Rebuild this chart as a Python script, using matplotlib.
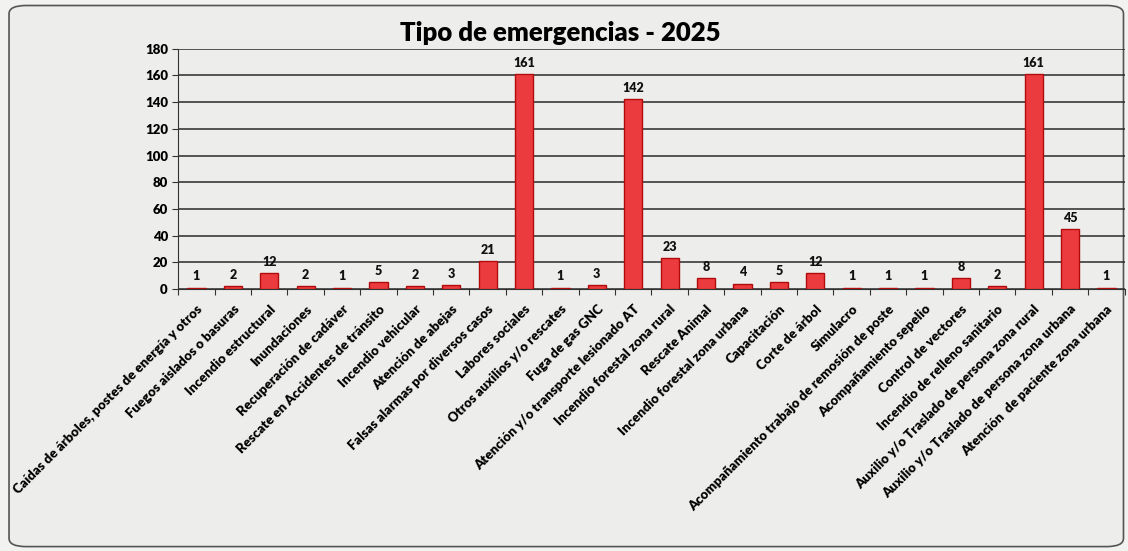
import matplotlib.pyplot as plt
from matplotlib.patches import FancyBboxPatch

categorias = [
    'Caídas de árboles, postes de energía y otros',
    'Fuegos aislados o basuras',
    'Incendio estructural',
    'Inundaciones',
    'Recuperación de cadáver',
    'Rescate en Accidentes de tránsito',
    'Incendio vehicular',
    'Atención de abejas',
    'Falsas alarmas por diversos casos',
    'Labores sociales',
    'Otros auxilios y/o rescates',
    'Fuga de gas GNC',
    'Atención y/o transporte lesionado AT',
    'Incendio forestal zona rural',
    'Rescate Animal',
    'Incendio forestal zona urbana',
    'Capacitación',
    'Corte de árbol',
    'Simulacro',
    'Acompañamiento trabajo de remosión de poste',
    'Acompañamiento sepelio',
    'Control de vectores',
    'Incendio de relleno sanitario',
    'Auxilio y/o Traslado de persona zona rural',
    'Auxilio y/o Traslado de persona zona urbana',
    'Atención  de paciente zona urbana',
]
valores = [1, 2, 12, 2, 1, 5, 2, 3, 21, 161, 1, 3, 142, 23, 8, 4, 5, 12,
           1, 1, 1, 8, 2, 161, 45, 1]
y_ticks = [0, 20, 40, 60, 80, 100, 120, 140, 160, 180]

plt.rcParams['font.family'] = ['Lato', 'DejaVu Sans']
plt.rcParams['font.weight'] = 'bold'

fig = plt.figure(figsize=(11.28, 5.51), dpi=100)
fig.patch.set_facecolor('#f2f2f0')

# marco redondeado del grafico
marco = FancyBboxPatch((0.008, 0.008), 0.988, 0.982, transform=fig.transFigure,
                       boxstyle='round,pad=0,rounding_size=0.015',
                       facecolor='#ededeb', edgecolor='#555555', linewidth=1.2,
                       zorder=-10)
fig.patches.append(marco)

ax = fig.add_axes([0.158, 0.4755, 0.839, 0.436])
ax.set_facecolor('none')
ax.set_zorder(5)

x = range(len(categorias))
bars = ax.bar(x, valores, width=0.5, color='#ec3b3e', edgecolor='#b00c0c',
              linewidth=1.0, zorder=3)

for xi, v in zip(x, valores):
    ax.text(xi, v + 4, str(v), ha='center', va='bottom', fontsize=9,
            fontweight='heavy', color='#111111')

ax.set_xlim(-0.5, len(categorias) - 0.5)
ax.set_ylim(0, 180)
ax.set_yticks(y_ticks)
ax.set_yticklabels([str(t) for t in y_ticks], fontsize=9.5, fontweight='heavy')
ax.yaxis.grid(True, color='#2a2a2a', linewidth=1.1, zorder=0)
ax.set_axisbelow(True)

# marcas en x entre categorias, etiquetas en el centro
ax.set_xticks([i - 0.5 for i in range(len(categorias) + 1)])
ax.set_xticklabels([])
ax.set_xticks(list(x), minor=True)
ax.set_xticklabels(categorias, minor=True, rotation=45, ha='right',
                   rotation_mode='anchor', fontsize=9.5, fontweight='heavy')
ax.tick_params(axis='x', which='minor', length=0, pad=10)
ax.tick_params(axis='x', which='major', length=4, color='#333333')
ax.tick_params(axis='y', length=4, color='#333333')

for s in ['top', 'right']:
    ax.spines[s].set_visible(False)
ax.spines['left'].set_color('#333333')
ax.spines['bottom'].set_color('#333333')

fig.text(0.497, 0.94, 'Tipo de emergencias - 2025', ha='center', va='center',
         fontsize=18.5, fontweight='heavy')

plt.savefig('out.png', dpi=100, facecolor=fig.get_facecolor())
